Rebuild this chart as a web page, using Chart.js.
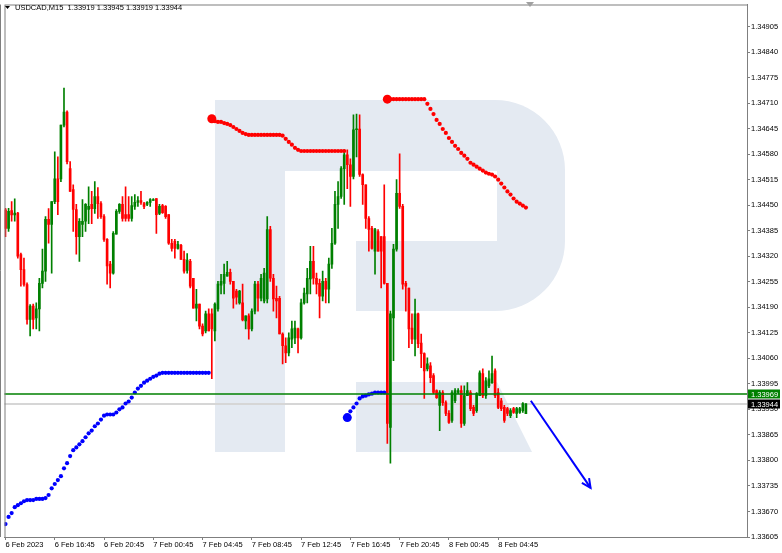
<html>
<head>
<meta charset="utf-8">
<script src="https://cdn.jsdelivr.net/npm/chart.js@4.4.1/dist/chart.umd.min.js"></script>
<style>
  body { margin:0; background:#fff; }
</style>
</head>
<body>
<div style="width:782px;height:553px;"><canvas id="chart" width="782" height="553"></canvas></div>
<script>
// USDCAD M15, one value per bar (bar 0 = 6 Feb 12:45)
const openP = [1.34438,1.34391,1.34436,1.34425,1.34430,1.34324,1.34286,1.34248,1.34159,1.34193,1.34163,1.34186,1.34251,1.34282,1.34414,1.34401,1.34459,1.34517,1.34517,1.34654,
1.34687,1.34543,1.34490,1.34439,1.34370,1.34401,1.34409,1.34439,1.34452,1.34441,1.34472,1.34454,1.34421,1.34363,1.34300,1.34277,1.34376,1.34434,1.34452,1.34426,
1.34426,1.34416,1.34447,1.34457,1.34462,1.34454,1.34452,1.34457,1.34462,1.34467,1.34429,1.34449,1.34447,1.34426,1.34353,1.34358,1.34340,1.34348,1.34312,1.34284,
1.34307,1.34264,1.34188,1.34198,1.34142,1.34130,1.34173,1.34173,1.34130,1.34186,1.34246,1.34251,1.34269,1.34279,1.34256,1.34231,1.34201,1.34201,1.34155,1.34168,
1.34135,1.34180,1.34249,1.34213,1.34206,1.34211,1.34388,1.34264,1.34213,1.34213,1.34122,1.34092,1.34074,1.34109,1.34112,1.34135,1.34112,1.34201,1.34224,1.34262,
1.34307,1.34264,1.34251,1.34218,1.34256,1.34236,1.34300,1.34353,1.34452,1.34472,1.34543,1.34578,1.34553,1.34523,1.34642,1.34644,1.34528,1.34502,1.34416,1.34391,
1.34333,1.34383,1.34370,1.34370,1.34251,1.33884,1.34163,1.34338,1.34480,1.34447,1.34251,1.34239,1.34137,1.34109,1.34173,1.34099,1.34072,1.34033,1.34041,1.34016,
1.33978,1.33940,1.33973,1.33947,1.33920,1.33902,1.33952,1.33973,1.33978,1.33894,1.33965,1.33973,1.33935,1.33927,1.33965,1.34021,1.33965,1.33990,1.33998,1.34028,
1.33973,1.33952,1.33935,1.33932,1.33914,1.33932,1.33920,1.33922,1.33927,1.33919];
const highP = [1.34442,1.34442,1.34459,1.34466,1.34432,1.34328,1.34315,1.34252,1.34197,1.34198,1.34201,1.34264,1.34338,1.34421,1.34441,1.34459,1.34586,1.34573,1.34654,1.34748,
1.34690,1.34561,1.34502,1.34452,1.34416,1.34464,1.34454,1.34497,1.34485,1.34510,1.34495,1.34459,1.34426,1.34365,1.34307,1.34383,1.34439,1.34454,1.34472,1.34497,
1.34472,1.34472,1.34477,1.34472,1.34485,1.34457,1.34459,1.34467,1.34467,1.34467,1.34452,1.34452,1.34449,1.34426,1.34363,1.34363,1.34358,1.34350,1.34333,1.34327,
1.34312,1.34264,1.34236,1.34198,1.34148,1.34180,1.34186,1.34186,1.34201,1.34256,1.34274,1.34300,1.34307,1.34287,1.34256,1.34236,1.34233,1.34249,1.34168,1.34173,
1.34186,1.34256,1.34256,1.34274,1.34289,1.34421,1.34396,1.34274,1.34244,1.34218,1.34125,1.34112,1.34125,1.34155,1.34155,1.34137,1.34211,1.34239,1.34289,1.34345,
1.34345,1.34277,1.34262,1.34282,1.34264,1.34315,1.34391,1.34485,1.34510,1.34548,1.34591,1.34591,1.34568,1.34680,1.34682,1.34680,1.34530,1.34502,1.34421,1.34396,
1.34391,1.34388,1.34370,1.34502,1.34251,1.34180,1.34350,1.34515,1.34581,1.34452,1.34256,1.34239,1.34173,1.34211,1.34175,1.34122,1.34074,1.34061,1.34049,1.34021,
1.33980,1.33978,1.33978,1.33952,1.33927,1.33978,1.33983,1.33983,1.33990,1.33990,1.33998,1.33978,1.33940,1.33973,1.34028,1.34033,1.34011,1.34028,1.34066,1.34033,
1.33983,1.33958,1.33940,1.33935,1.33932,1.33935,1.33935,1.33935,1.33947,1.33945];
const lowP = [1.34370,1.34383,1.34409,1.34409,1.34315,1.34244,1.34244,1.34147,1.34117,1.34135,1.34135,1.34130,1.34239,1.34256,1.34353,1.34277,1.34454,1.34426,1.34510,1.34649,
1.34555,1.34485,1.34383,1.34325,1.34307,1.34370,1.34383,1.34403,1.34403,1.34429,1.34416,1.34416,1.34358,1.34249,1.34239,1.34274,1.34376,1.34429,1.34409,1.34409,
1.34409,1.34409,1.34439,1.34447,1.34452,1.34441,1.34449,1.34447,1.34462,1.34378,1.34426,1.34429,1.34416,1.34350,1.34333,1.34315,1.34338,1.34312,1.34277,1.34277,
1.34239,1.34188,1.34155,1.34135,1.34117,1.34125,1.34130,1.34008,1.34104,1.34180,1.34224,1.34224,1.34269,1.34249,1.34188,1.34198,1.34198,1.34155,1.34135,1.34109,
1.34130,1.34173,1.34180,1.34206,1.34201,1.34201,1.34256,1.34180,1.34163,1.34122,1.34046,1.34049,1.34066,1.34087,1.34097,1.34074,1.34109,1.34198,1.34201,1.34224,
1.34249,1.34224,1.34163,1.34206,1.34201,1.34201,1.34289,1.34350,1.34391,1.34467,1.34452,1.34492,1.34447,1.34517,1.34573,1.34523,1.34452,1.34391,1.34333,1.34338,
1.34274,1.34333,1.34239,1.34249,1.33843,1.33793,1.34054,1.34333,1.34442,1.34236,1.34180,1.34087,1.34097,1.34066,1.34087,1.34036,1.33958,1.34028,1.33998,1.33970,
1.33958,1.33876,1.33940,1.33914,1.33894,1.33897,1.33947,1.33970,1.33884,1.33889,1.33965,1.33927,1.33914,1.33922,1.33965,1.33960,1.33958,1.33985,1.33996,1.33960,
1.33932,1.33927,1.33897,1.33914,1.33909,1.33920,1.33909,1.33920,1.33922,1.33919];
const closeP = [1.34391,1.34434,1.34425,1.34430,1.34320,1.34286,1.34248,1.34159,1.34193,1.34159,1.34186,1.34251,1.34282,1.34414,1.34401,1.34459,1.34517,1.34459,1.34654,1.34687,
1.34561,1.34485,1.34439,1.34370,1.34409,1.34409,1.34452,1.34447,1.34441,1.34472,1.34454,1.34421,1.34363,1.34295,1.34277,1.34378,1.34434,1.34452,1.34416,1.34416,
1.34416,1.34449,1.34457,1.34462,1.34457,1.34447,1.34457,1.34464,1.34464,1.34426,1.34447,1.34431,1.34421,1.34353,1.34340,1.34340,1.34350,1.34312,1.34282,1.34310,
1.34244,1.34188,1.34198,1.34142,1.34122,1.34173,1.34130,1.34135,1.34198,1.34249,1.34256,1.34274,1.34279,1.34256,1.34213,1.34216,1.34231,1.34158,1.34168,1.34135,
1.34180,1.34249,1.34213,1.34264,1.34277,1.34388,1.34264,1.34211,1.34206,1.34122,1.34092,1.34074,1.34112,1.34135,1.34137,1.34112,1.34201,1.34226,1.34264,1.34307,
1.34264,1.34249,1.34218,1.34256,1.34236,1.34300,1.34353,1.34452,1.34472,1.34543,1.34578,1.34553,1.34523,1.34642,1.34644,1.34528,1.34502,1.34416,1.34388,1.34340,
1.34388,1.34333,1.34333,1.34251,1.33894,1.34173,1.34338,1.34480,1.34447,1.34249,1.34244,1.34135,1.34109,1.34173,1.34097,1.34072,1.34028,1.34046,1.34011,1.33973,
1.33960,1.33973,1.33947,1.33920,1.33897,1.33973,1.33978,1.33978,1.33894,1.33965,1.33978,1.33932,1.33920,1.33970,1.34023,1.33965,1.34003,1.34008,1.34021,1.33965,
1.33935,1.33932,1.33902,1.33920,1.33927,1.33922,1.33932,1.33932,1.33945,1.33944];

// Parabolic SAR, split into its runs (first bar index of each run)
const sarBlue1Start = 0;
const sarBlue1 = [1.33638,1.33656,1.33666,1.33681,1.33686,1.33691,1.33696,1.33699,1.33699,1.33699,1.33702,1.33702,1.33702,1.33704,1.33712,1.33729,1.33740,1.33750,1.33760,1.33780,
1.33793,1.33811,1.33826,1.33833,1.33841,1.33849,1.33859,1.33869,1.33876,1.33887,1.33894,1.33904,1.33914,1.33917,1.33917,1.33917,1.33922,1.33930,1.33935,1.33945,
1.33950,1.33960,1.33973,1.33983,1.33990,1.33998,1.34003,1.34008,1.34013,1.34016,1.34021,1.34023,1.34023,1.34023,1.34023,1.34023,1.34023,1.34023,1.34023,1.34023,
1.34023,1.34023,1.34023,1.34023,1.34023,1.34023,1.34023];
const sarRed1Start = 67;
const sarRed1 = [1.34670,1.34664,1.34662,1.34662,1.34659,1.34657,1.34654,1.34649,1.34644,1.34639,1.34634,1.34631,1.34629,1.34629,1.34629,1.34629,1.34629,1.34629,1.34629,1.34629,
1.34629,1.34629,1.34629,1.34627,1.34619,1.34611,1.34604,1.34596,1.34591,1.34588,1.34588,1.34588,1.34588,1.34588,1.34588,1.34588,1.34588,1.34588,1.34588,1.34588,
1.34588,1.34588,1.34588,1.34588];
const sarBlue2Start = 111;
const sarBlue2 = [1.33909,1.33925,1.33935,1.33945,1.33958,1.33963,1.33965,1.33968,1.33970,1.33973,1.33973,1.33973,1.33973];
const sarRed2Start = 124;
const sarRed2 = [1.34720,1.34720,1.34720,1.34720,1.34720,1.34720,1.34720,1.34720,1.34720,1.34720,1.34720,1.34720,1.34720,1.34708,1.34695,1.34682,1.34667,1.34657,1.34644,1.34634,
1.34621,1.34611,1.34601,1.34593,1.34583,1.34576,1.34568,1.34558,1.34553,1.34548,1.34543,1.34538,1.34533,1.34530,1.34528,1.34523,1.34515,1.34505,1.34495,1.34485,
1.34477,1.34467,1.34459,1.34454,1.34449,1.34444];

// forecast arrow (bar index, price)
const arrowBars = [170.6, 190];
const arrowPrices = [1.33952, 1.33730];

const levelPrice = 1.33969;
const bidPrice = 1.33944;

const timeLabels = ['6 Feb 2023','6 Feb 16:45','6 Feb 20:45','7 Feb 00:45','7 Feb 04:45','7 Feb 08:45','7 Feb 12:45','7 Feb 16:45','7 Feb 20:45','8 Feb 00:45','8 Feb 04:45'];
const labelBars = [0,16,32,48,64,80,96,112,128,144,160];
const priceTicks = [1.33605,1.33670,1.33735,1.33800,1.33865,1.33930,1.33995,1.34060,1.34125,1.34190,1.34255,1.34320,1.34385,1.34450,1.34515,1.34580,1.34645,1.34710,1.34775,1.34840,1.34905];

const GREEN = '#008000', RED = '#ff0000', BLUE = '#0000ff';
const FONT = 'Liberation Sans';

function candleColor(i) { return closeP[i] >= openP[i] ? GREEN : RED; }

const wicks = openP.map((o, i) => ({ x: i, y: [lowP[i], highP[i]] }));
const bodies = openP.map((o, i) => ({ x: i, y: [o, closeP[i]] }));

function sarSet(start, vals, color, bigFirst) {
  return {
    type: 'line', order: 3, showLine: false,
    data: vals.map((v, k) => ({ x: start + k, y: v })),
    backgroundColor: color, borderColor: color, borderWidth: 0,
    pointRadius: c => (bigFirst && c.dataIndex === 0) ? 4.5 : 2.1
  };
}

const decor = {
  id: 'decor',
  beforeDatasetsDraw(chart) {
    const ctx = chart.ctx, y = chart.scales.y, a = chart.chartArea;
    ctx.save();
    // R watermark
    ctx.fillStyle = '#e4eaf2';
    ctx.fillRect(215, 100, 70, 352);
    ctx.beginPath(); ctx.roundRect(285, 100, 280, 211, [0, 70, 70, 0]); ctx.fill();
    ctx.beginPath(); ctx.moveTo(356, 382); ctx.lineTo(497, 382); ctx.lineTo(532, 452); ctx.lineTo(356, 452); ctx.closePath(); ctx.fill();
    ctx.fillStyle = '#ffffff';
    ctx.fillRect(285, 171, 212, 70);
    ctx.fillRect(285, 241, 71, 70);
    // bid line
    const yb = y.getPixelForValue(bidPrice);
    ctx.strokeStyle = '#d6d6d6'; ctx.lineWidth = 2;
    ctx.beginPath(); ctx.moveTo(a.left, yb); ctx.lineTo(a.right, yb); ctx.stroke();
    ctx.restore();
  },
  afterDatasetsDraw(chart) {
    const ctx = chart.ctx, y = chart.scales.y, a = chart.chartArea;
    ctx.save();
    const yl = y.getPixelForValue(levelPrice);
    ctx.strokeStyle = GREEN; ctx.lineWidth = 1.5;
    ctx.beginPath(); ctx.moveTo(a.left, yl); ctx.lineTo(a.right, yl); ctx.stroke();
    // arrow head
    const pts = chart.getDatasetMeta(chart.data.datasets.length - 1).data;
    const p0 = pts[0], p1 = pts[1];
    const ang = Math.atan2(p1.y - p0.y, p1.x - p0.x);
    ctx.strokeStyle = BLUE; ctx.lineWidth = 2;
    ctx.beginPath();
    ctx.moveTo(p1.x - 10 * Math.cos(ang - 0.45), p1.y - 10 * Math.sin(ang - 0.45));
    ctx.lineTo(p1.x, p1.y);
    ctx.lineTo(p1.x - 10 * Math.cos(ang + 0.45), p1.y - 10 * Math.sin(ang + 0.45));
    ctx.stroke();
    ctx.restore();
  },
  afterDraw(chart) {
    const ctx = chart.ctx, y = chart.scales.y, a = chart.chartArea;
    ctx.save();
    ctx.strokeStyle = '#7f7f7f'; ctx.lineWidth = 1;
    ctx.strokeRect(a.left + 0.5, a.top + 0.5, a.right - a.left, a.bottom - a.top);
    ctx.beginPath(); ctx.moveTo(0.5, a.top); ctx.lineTo(0.5, a.bottom); ctx.stroke();
    // title
    ctx.fillStyle = '#000';
    ctx.beginPath(); ctx.moveTo(5, 6); ctx.lineTo(10, 6); ctx.lineTo(7.5, 9); ctx.closePath(); ctx.fill();
    ctx.font = '7.5px ' + FONT;
    ctx.textBaseline = 'middle';
    ctx.fillText('USDCAD,M15  1.33919 1.33945 1.33919 1.33944', 15, 8);
    // shift marker
    ctx.fillStyle = '#a0a0a0';
    ctx.beginPath(); ctx.moveTo(526, 2); ctx.lineTo(534, 2); ctx.lineTo(530, 7); ctx.closePath(); ctx.fill();
    // price tags
    [[levelPrice, GREEN], [bidPrice, '#000']].forEach(([p, c]) => {
      const yy = Math.round(y.getPixelForValue(p));
      ctx.fillStyle = c;
      ctx.fillRect(a.right + 1, yy - 4.5, 32, 9);
      ctx.fillStyle = '#fff';
      ctx.fillText(p.toFixed(5), a.right + 4, yy + 0.5);
    });
    ctx.restore();
  }
};

new Chart(document.getElementById('chart'), {
  type: 'bar',
  data: {
    datasets: [
      { data: wicks, order: 5, grouped: false, barThickness: 1, borderWidth: 0,
        backgroundColor: c => candleColor(c.dataIndex) },
      { data: bodies, order: 4, grouped: false, barThickness: 2, minBarLength: 1, borderWidth: 0,
        backgroundColor: c => candleColor(c.dataIndex) },
      sarSet(sarBlue1Start, sarBlue1, BLUE, false),
      sarSet(sarRed1Start, sarRed1, RED, true),
      sarSet(sarBlue2Start, sarBlue2, BLUE, true),
      sarSet(sarRed2Start, sarRed2, RED, true),
      { type: 'line', order: 1, data: arrowBars.map((b, k) => ({ x: b, y: arrowPrices[k] })),
        borderColor: BLUE, borderWidth: 2, pointRadius: 0 }
    ]
  },
  options: {
    responsive: false,
    animation: false,
    devicePixelRatio: 1,
    layout: { padding: { left: 2, top: 2, right: 0, bottom: 0 } },
    plugins: { legend: { display: false }, tooltip: { enabled: false } },
    scales: {
      x: {
        type: 'linear', min: -0.32, max: 240.8, offset: false,
        grid: { drawOnChartArea: false, tickLength: 3, color: '#7f7f7f', offset: false },
        border: { color: '#7f7f7f' },
        afterBuildTicks: s => { s.ticks = labelBars.map(v => ({ value: v })); },
        afterFit: s => { s.height = 16; s.paddingLeft = 0; s.paddingRight = 0; },
        ticks: {
          autoSkip: false, maxRotation: 0, align: 'start', padding: 0,
          color: '#000', font: { family: FONT, size: 7.5 },
          callback: v => timeLabels[labelBars.indexOf(v)]
        }
      },
      y: {
        position: 'right', min: 1.33605, max: 1.34961,
        grid: { drawOnChartArea: false, tickLength: 3, color: '#7f7f7f' },
        border: { color: '#7f7f7f' },
        afterBuildTicks: s => { s.ticks = priceTicks.map(v => ({ value: v })); },
        afterFit: s => { s.width = 35; s.paddingTop = 0; s.paddingBottom = 0; },
        ticks: {
          padding: 1, color: '#000', font: { family: FONT, size: 7.5 },
          callback: v => v.toFixed(5)
        }
      }
    }
  },
  plugins: [decor]
});
</script>
</body>
</html>
